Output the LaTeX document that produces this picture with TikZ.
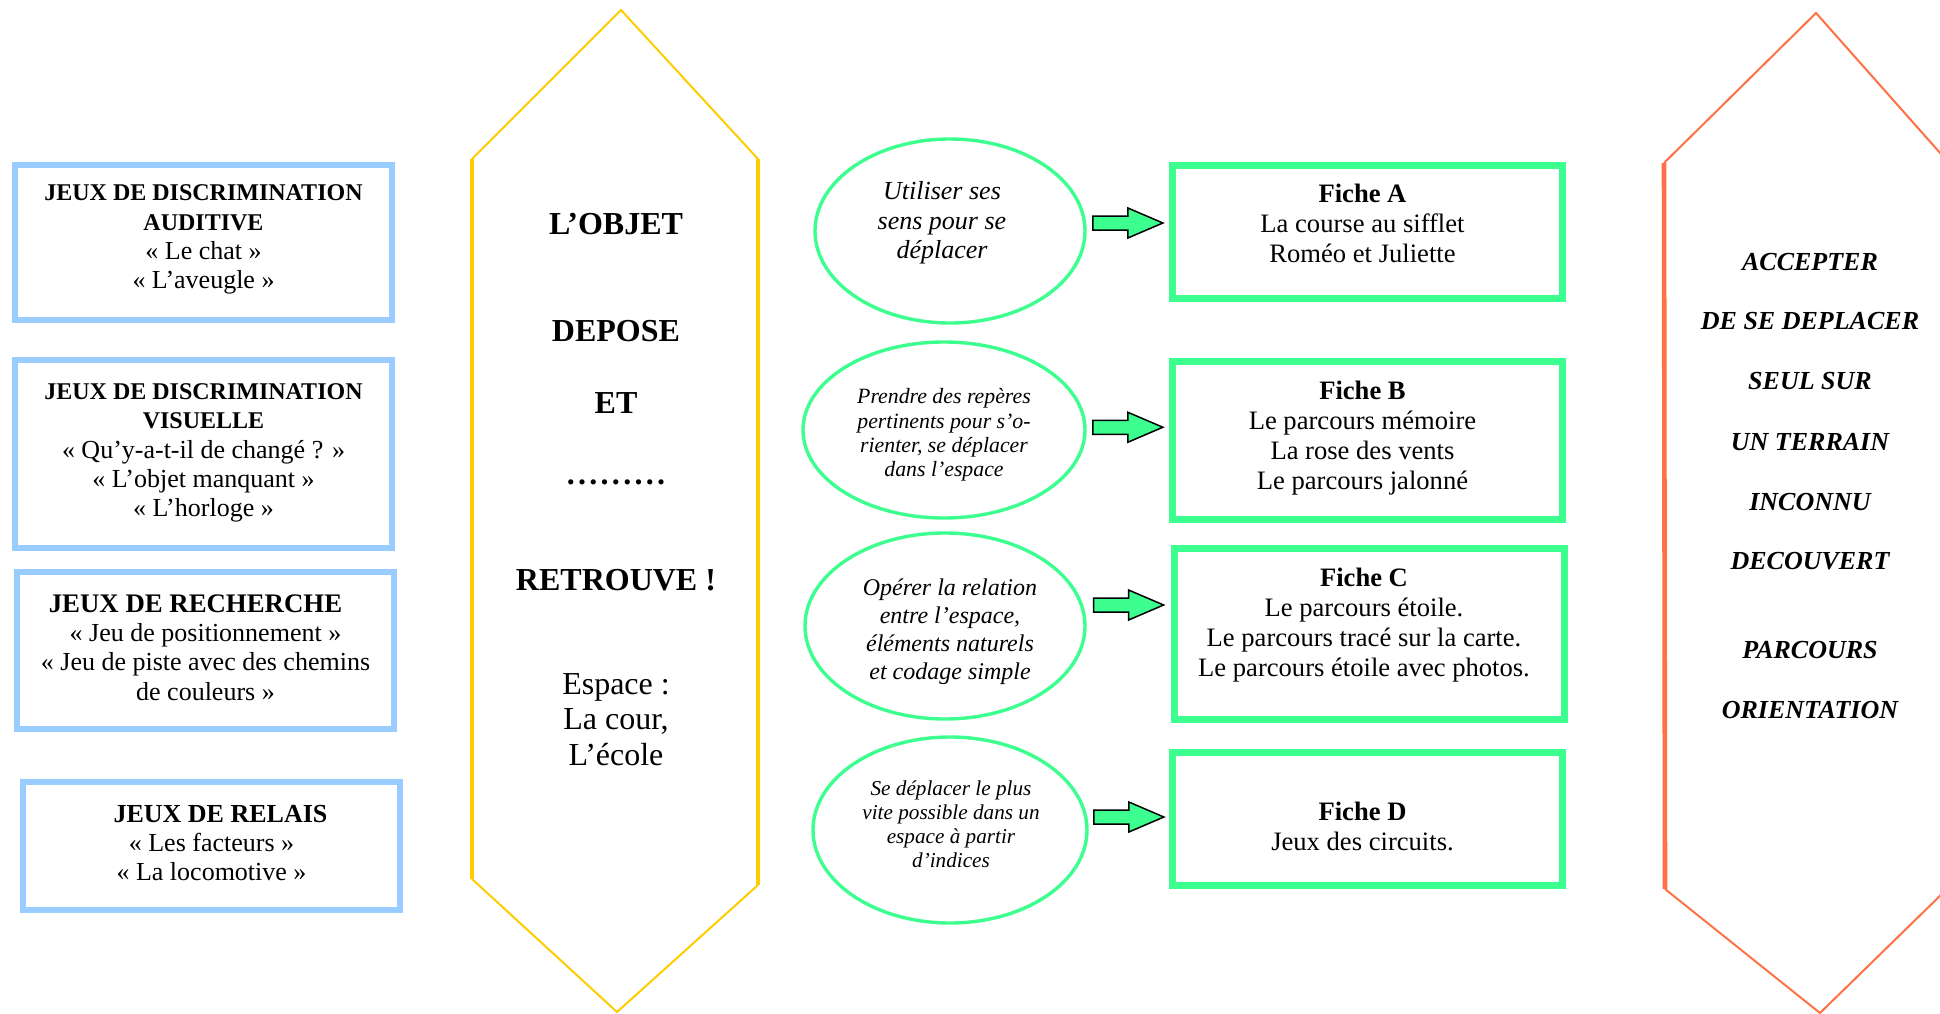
\documentclass[tikz,border=0pt]{standalone}
\usepackage{fontspec}
\setmainfont{Liberation Serif}
\usetikzlibrary{shapes.geometric,calc}

\definecolor{bleuclair}{HTML}{99CCFF}
\definecolor{jaunehex}{HTML}{FFCC00}
\definecolor{orangehex}{HTML}{FF7043}
\definecolor{vertvif}{HTML}{3DFF8F}

\newcommand\titrejeu[1]{{\fontsize{12}{14.6}\selectfont\bfseries #1}}
\newcommand\pointilles{\foreach \i in {1,...,9}{.\kern1.65pt}\unkern}

\tikzset{
  fleche/.pic={\draw[fill=vertvif,line width=0.75pt,line join=miter]
    (-35,-7) -- (0,-7) -- (0,-15) -- (35,0) -- (0,15) -- (0,7) -- (-35,7) -- cycle;}
}

\begin{document}
\begin{tikzpicture}[x=0.5pt,y=-0.5pt,
  boitebleue/.style={draw=bleuclair,line width=3.3pt,minimum width=188.5pt,inner sep=0pt},
  fiche/.style={draw=vertvif,line width=3.5pt,minimum width=195pt,inner sep=0pt},
  but/.style={ellipse,draw=vertvif,line width=1.7pt,inner sep=0pt},
  texte/.style={align=center,inner sep=0pt},
  hexbord/.style={line width=1pt,line join=miter},
  hexcote/.style={line width=2.3pt},
  mothex/.style={anchor=base,inner sep=0pt,font=\fontsize{16}{18}\selectfont\bfseries},
  mothexnormal/.style={anchor=base,inner sep=0pt,font=\fontsize{16}{18}\selectfont},
  motbut/.style={anchor=base,inner sep=0pt,font=\fontsize{13}{15}\selectfont\bfseries\itshape}]
\useasboundingbox (0,0) rectangle (1940,1013);

% jeux (colonne de gauche)
\node[boitebleue,minimum height=77.5pt](jeuxAud) at (203.5,242.5){};
\node[boitebleue,minimum height=94pt](jeuxVis) at (203.5,454){};
\node[boitebleue,minimum height=78.5pt](jeuxRech) at (205.5,650.5){};
\node[boitebleue,minimum height=64pt](jeuxRel) at (211.5,846){};
\begin{scope}[texte/.append style={font=\fontsize{13}{14.6}\selectfont}]
\node[texte](txtAud) at ($(jeuxAud)+(0,-3)$)
  {\titrejeu{JEUX DE DISCRIMINATION}\\\titrejeu{AUDITIVE}\\« Le chat »\\« L’aveugle »};
\node[texte](txtVis) at ($(jeuxVis)+(0,-1)$)
  {\titrejeu{JEUX DE DISCRIMINATION}\\\titrejeu{VISUELLE}\\« Qu’y-a-t-il de changé ? »\\« L’objet manquant »\\« L’horloge »};
\node[texte](txtRech) at ($(jeuxRech)+(0,-3)$)
  {{\fontsize{13.4}{14.6}\selectfont\bfseries JEUX DE RECHERCHE}\hspace*{10pt}\\« Jeu de positionnement »\\« Jeu de piste avec des chemins\\de couleurs »};
\node[texte](txtRel) at ($(jeuxRel)+(0,-3)$)
  {\hspace*{9pt}\textbf{JEUX DE RELAIS}\\« Les facteurs »\\« La locomotive »};
\end{scope}

% hexagone jaune
\coordinate (hjN) at (621,10);
\coordinate (hjNE) at (758,159);
\coordinate (hjSE) at (758,885);
\coordinate (hjS) at (617,1012);
\coordinate (hjSW) at (472,879);
\coordinate (hjNW) at (472,159);
\draw[hexbord,jaunehex](hjNW)--(hjN)--(hjNE);
\draw[hexbord,jaunehex](hjSW)--(hjS)--(hjSE);
\draw[hexcote,jaunehex](hjNW)--(hjSW);
\draw[hexcote,jaunehex](hjNE)--(hjSE);
\foreach \y/\t [count=\i] in {234/L’OBJET,341/DEPOSE,413/ET,590/RETROUVE !}
  \node[mothex](objet\i) at (616,\y){\t};
\node[mothex](objetpts) at (616,484){\pointilles};
\foreach \y/\t [count=\i] in {694/Espace :,729/{La cour,},765/L’école}
  \node[mothexnormal](espace\i) at (616,\y){\t};

% objectifs
\node[but,minimum width=135pt,minimum height=92pt](butA) at (950,231){};
\node[but,minimum width=141pt,minimum height=88pt](butB) at (944,430){};
\node[but,minimum width=140pt,minimum height=93pt](butC) at (945,626){};
\node[but,minimum width=137pt,minimum height=93pt](butD) at (950,830){};
\node[texte,font=\fontsize{13}{14.75}\selectfont\itshape](txtButA) at ($(butA)+(-8,-8)$)
  {Utiliser ses\\sens pour se\\déplacer};
\node[texte,font=\fontsize{10.9}{12.2}\selectfont\itshape](txtButB) at ($(butB)+(0,5)$)
  {Prendre des repères\\pertinents pour s’o-\\rienter, se déplacer\\dans l’espace};
\node[texte,font=\fontsize{12}{14}\selectfont\itshape](txtButC) at ($(butC)+(5,6)$)
  {Opérer la relation\\entre l’espace,\\éléments naturels\\et codage simple};
\node[texte,font=\fontsize{10.6}{12}\selectfont\itshape](txtButD) at ($(butD)+(1,-6)$)
  {Se déplacer le plus\\vite possible dans un\\espace à partir\\d’indices};

% fiches
\node[fiche,minimum height=66.5pt](ficheA) at (1367.5,232){};
\node[fiche,minimum height=79pt](ficheB) at (1367.5,440.5){};
\node[fiche,minimum height=85.5pt](ficheC) at (1369,634){};
\node[fiche,minimum height=66.5pt](ficheD) at (1367.5,819){};
\begin{scope}[texte/.append style={font=\fontsize{13.3}{15}\selectfont}]
\node[texte](txtFicheA) at ($(ficheA)+(-5,-9)$)
  {\textbf{Fiche A}\\La course au sifflet\\Roméo et Juliette};
\node[texte](txtFicheB) at ($(ficheB)+(-5,-2.5)$)
  {\textbf{Fiche B}\\Le parcours mémoire\\La rose des vents\\Le parcours jalonné};
\node[texte](txtFicheC) at ($(ficheC)+(-5,-8.5)$)
  {\textbf{Fiche C}\\Le parcours étoile.\\Le parcours tracé sur la carte.\\Le parcours étoile avec photos.};
\node[texte](txtFicheD) at ($(ficheD)+(-5,7.5)$)
  {\textbf{Fiche D}\\Jeux des circuits.};
\end{scope}

% fleches
\foreach \n/\dy in {A/-8.5,B/-8,C/-25,D/-7.5}
  \path ($(but\n.east)!0.5!(fiche\n.west)+(0,\dy)$) pic{fleche};

% hexagone orange (coupe a droite)
\begin{scope}
\clip (0,0) rectangle (1940,1013);
\coordinate (hoN) at (1816,13);
\coordinate (hoNE) at (1949,163);
\coordinate (hoSE) at (1947,889);
\coordinate (hoS) at (1820,1013);
\coordinate (hoSW) at (1665,889);
\coordinate (hoNW) at (1664,163);
\draw[hexbord,orangehex](hoNW)--(hoN)--(hoNE);
\draw[hexbord,orangehex](hoSW)--(hoS)--(hoSE);
\draw[hexcote,orangehex](hoNW)--(hoSW);
\draw[hexcote,orangehex](hoNE)--(hoSE);
\end{scope}
\foreach \y/\t [count=\i] in {270/ACCEPTER,329/DE SE DEPLACER,389/SEUL SUR,450/UN TERRAIN,510/INCONNU,569/DECOUVERT,658/PARCOURS,718/ORIENTATION}
  \node[motbut](accepter\i) at (1810,\y){\t};
\end{tikzpicture}
\end{document}
